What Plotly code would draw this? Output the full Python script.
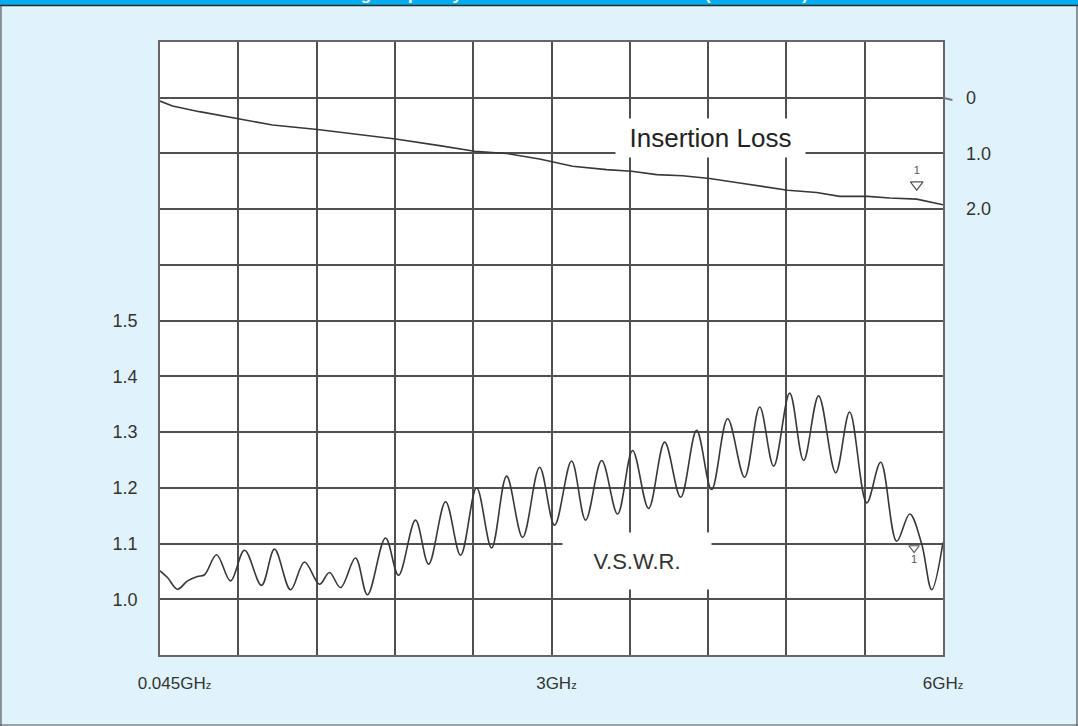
import plotly.graph_objects as go

# ---------------- data ----------------
freq_vswr = [0.045, 0.102, 0.178, 0.254, 0.330, 0.384, 0.475, 0.581, 0.688, 0.817,
             0.916, 1.038, 1.144, 1.258, 1.334, 1.418, 1.532, 1.623, 1.760, 1.859,
             1.988, 2.088, 2.217, 2.331, 2.453, 2.567, 2.681, 2.803, 2.932, 3.046,
             3.175, 3.282, 3.404, 3.525, 3.639, 3.761, 3.883, 4.005, 4.126, 4.240,
             4.362, 4.491, 4.606, 4.712, 4.834, 4.940, 5.054, 5.184, 5.290, 5.420,
             5.526, 5.648, 5.747, 5.838, 5.914, 6.000]
vswr = [1.051, 1.039, 1.018, 1.033, 1.041, 1.044, 1.080, 1.033, 1.088, 1.025,
        1.090, 1.017, 1.067, 1.027, 1.048, 1.021, 1.074, 1.008, 1.110, 1.043,
        1.142, 1.063, 1.175, 1.079, 1.200, 1.092, 1.221, 1.111, 1.237, 1.133,
        1.248, 1.142, 1.249, 1.153, 1.267, 1.163, 1.282, 1.183, 1.303, 1.197,
        1.324, 1.219, 1.345, 1.239, 1.370, 1.249, 1.365, 1.227, 1.336, 1.173,
        1.246, 1.104, 1.153, 1.099, 1.017, 1.102]

freq_il = [0.045, 0.140, 0.345, 0.635, 0.901, 1.243, 1.540, 1.837, 2.171, 2.437,
           2.681, 2.932, 3.183, 3.442, 3.632, 3.822, 4.020, 4.225, 4.453, 4.659,
           4.819, 5.039, 5.214, 5.427, 5.595, 5.800, 6.000]
insertion_loss = [0.06, 0.15, 0.25, 0.38, 0.49, 0.57, 0.66, 0.74, 0.86, 0.96,
                  1.00, 1.10, 1.23, 1.29, 1.32, 1.38, 1.40, 1.45, 1.53, 1.60,
                  1.66, 1.70, 1.77, 1.77, 1.80, 1.82, 1.92]

vswr_ticks = [1.0, 1.1, 1.2, 1.3, 1.4, 1.5]
vswr_tick_text = ["1.0", "1.1", "1.2", "1.3", "1.4", "1.5"]
il_ticks = [0, 1, 2]
il_tick_text = ["0", "1.0", "2.0"]
x_tick_vals = [0.155, 3.06, 6.0]
x_tick_text = ["0.045GH<span style='font-size:11px'>z</span>",
               "3GH<span style='font-size:11px'>z</span>",
               "6GH<span style='font-size:11px'>z</span>"]

# marker "1" positions
mk_il_f, mk_il_v = [5.80], [1.56]
mk_vs_f, mk_vs_v = [5.78], [1.092]

GRID = "#505050"
LINE = "#383838"
FONT = "Liberation Sans, Arial, sans-serif"

fig = go.Figure()
fig.add_trace(go.Scatter(x=freq_vswr, y=vswr, mode="lines",
                         line=dict(color=LINE, width=1.6, shape="spline", smoothing=1.0),
                         yaxis="y", hoverinfo="skip", showlegend=False))
fig.add_trace(go.Scatter(x=freq_il, y=insertion_loss, mode="lines",
                         line=dict(color=LINE, width=1.6),
                         yaxis="y2", hoverinfo="skip", showlegend=False))
fig.add_trace(go.Scatter(x=mk_il_f, y=mk_il_v, mode="markers+text", text=["1"],
                         textposition="top center", textfont=dict(size=11, color="#555"),
                         marker=dict(symbol="triangle-down-open", size=11,
                                     color="#555", line=dict(width=1.2)),
                         yaxis="y2", hoverinfo="skip", showlegend=False))
fig.add_trace(go.Scatter(x=mk_vs_f, y=mk_vs_v, mode="markers+text", text=["1"],
                         textposition="bottom center", textfont=dict(size=11, color="#555"),
                         marker=dict(symbol="triangle-down-open", size=9,
                                     color="#555", line=dict(width=1.2)),
                         yaxis="y", hoverinfo="skip", showlegend=False))

fig.update_layout(
    width=1078, height=726,
    margin=dict(l=160, r=135, t=42, b=71),
    paper_bgcolor="#e0f3fc",
    plot_bgcolor="#ffffff",
    font=dict(family=FONT, color="#333333", size=18),
    xaxis=dict(range=[0.045, 6.0], tickmode="array", tickvals=x_tick_vals,
               ticktext=x_tick_text, showgrid=False, zeroline=False,
               showline=True, mirror=True, linecolor="#666", linewidth=1.5,
               ticks="", ticklabelstandoff=12,
               tickfont=dict(size=17, color="#333"),
               minor=dict(tickmode="linear", tick0=0.045, dtick=0.5955,
                          showgrid=True, gridcolor=GRID, gridwidth=1.7, ticks="")),
    yaxis=dict(range=[0.9, 2.0], tickmode="array", tickvals=vswr_ticks,
               ticktext=vswr_tick_text, showgrid=True, gridcolor=GRID, gridwidth=1.7,
               zeroline=False, showline=True, mirror=True, linecolor="#666",
               linewidth=1.5, ticks="", ticklabelstandoff=17,
               tickfont=dict(size=18, color="#333"),
               minor=dict(tickmode="linear", tick0=0.9, dtick=0.1, showgrid=True,
                          gridcolor=GRID, gridwidth=1.7, ticks="")),
    yaxis2=dict(range=[10, -1], overlaying="y", side="right", tickmode="array",
                tickvals=il_ticks, ticktext=il_tick_text, showgrid=False,
                zeroline=False, showline=False, ticks="", ticklabelstandoff=22,
                tickfont=dict(size=18, color="#333")),
    showlegend=False,
)

# labels with white boxes
fig.add_annotation(x=0.7026, y=0.843, xref="paper", yref="paper",
                   xanchor="center", yanchor="middle",
                   text="Insertion Loss", showarrow=False,
                   font=dict(size=26, color="#222", family=FONT),
                   bgcolor="#ffffff", width=189, height=38, borderpad=0)
fig.add_annotation(x=0.6087, y=0.1533, xref="paper", yref="paper",
                   xanchor="center", yanchor="middle",
                   text="V.S.W.R.", showarrow=False,
                   font=dict(size=22, color="#333", family=FONT),
                   bgcolor="#ffffff", width=148, height=56, borderpad=0)

# frame: blue title bar and border
fig.add_shape(type="rect", xref="paper", yref="paper", x0=-0.25, x1=1.25,
              y0=1.0604, y1=1.12, fillcolor="#00aeef", line=dict(width=0), layer="above")
fig.add_shape(type="line", xref="paper", yref="paper", x0=-0.25, x1=1.25,
              y0=1.0595, y1=1.0595, line=dict(color="#2a2a2a", width=1.5), layer="above")
for xx in [-0.2031, 1.1711]:
    fig.add_shape(type="line", xref="paper", yref="paper", x0=xx, x1=xx,
                  y0=-0.2, y1=1.0595, line=dict(color="#555", width=1.2), layer="above")
fig.add_shape(type="line", xref="paper", yref="paper", x0=-0.25, x1=1.25,
              y0=-0.1142, y1=-0.1142, line=dict(color="#555", width=1.2), layer="above")
# small pointer at the 0 dB mark
fig.add_shape(type="line", xref="paper", yref="y2", x0=1.0, x1=1.012,
              y0=0, y1=0.04, line=dict(color="#777", width=2))

fig.add_annotation(x=0.511, y=1.0767, xref="paper", yref="paper",
                   xanchor="center", yanchor="middle",
                   text="<b>Testing Frequency vs. Insertion Loss & V.S.W.R. (0.045-6GHz)</b>",
                   showarrow=False, font=dict(size=17, color="#ffffff", family=FONT))

fig.write_html("out.html",
               config={"displayModeBar": False},
               post_script="document.body.style.margin='0';document.body.style.background='#e0f3fc';")
